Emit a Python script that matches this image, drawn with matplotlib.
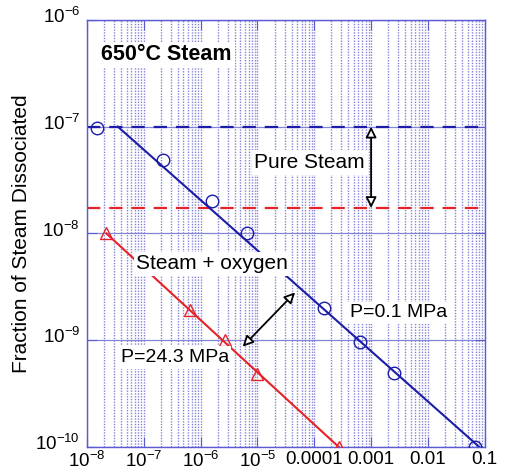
import matplotlib
matplotlib.use("Agg")
import matplotlib.pyplot as plt
from matplotlib.ticker import LogLocator, NullFormatter
from matplotlib.transforms import ScaledTranslation

plt.rcParams['font.family'] = ['Liberation Sans', 'DejaVu Sans']
plt.rcParams['mathtext.fontset'] = 'custom'
plt.rcParams['mathtext.rm'] = 'Liberation Sans'
plt.rcParams['mathtext.it'] = 'Liberation Sans'
plt.rcParams['mathtext.default'] = 'regular'

#DATA
#----
# P=0.1 MPa (pure steam + oxygen), blue circles
blue_x = [1.5e-8, 2.2e-7, 1.6e-6, 6.5e-6, 1.5e-4, 6.3e-4, 2.5e-3, 0.066]
blue_y = [9.8e-8, 4.9e-8, 2.0e-8, 1.0e-8, 2.0e-9, 9.6e-10, 4.9e-10, 1.0e-10]
blue_line_x = [3.5e-8, 0.08]
blue_line_y = [1.0e-7, 1.0e-10]
# P=24.3 MPa, red triangles
red_x = [2.2e-8, 6.5e-7, 2.7e-6, 9.8e-6, 2.7e-4]
red_y = [1.0e-8, 1.9e-9, 1.0e-9, 4.8e-10, 1.0e-10]
red_line_x = [2.2e-8, 2.7e-4]
red_line_y = [1.0e-8, 1.0e-10]
# pure steam levels
pure_blue = 1.0e-7
pure_red = 1.73e-8

xticks = [1e-8, 1e-7, 1e-6, 1e-5, 1e-4, 1e-3, 1e-2, 1e-1]
xticklabels = ['$10^{-8}$', '$10^{-7}$', '$10^{-6}$', '$10^{-5}$', '0.0001', '0.001', '0.01', '0.1']
yticks = [1e-10, 1e-9, 1e-8, 1e-7, 1e-6]
yticklabels = ['$10^{-10}$', '$10^{-9}$', '$10^{-8}$', '$10^{-7}$', '$10^{-6}$']

#STYLE
#-----
blue = '#1c1ca8'
red = '#e62228'
grid_col = '#8484d8'
frame_col = '#5a5ad2'

fig = plt.figure(figsize=(5.05, 4.73), dpi=100)
ax = fig.add_axes([0.172, 0.055, 0.788, 0.903])
ax.set_xscale('log')
ax.set_yscale('log')
ax.set_xlim(1e-8, 0.1)
ax.set_ylim(1e-10, 1e-6)

# grid: vertical dotted at every minor, horizontal only at decades
ax.xaxis.set_minor_locator(LogLocator(base=10, subs=range(2, 10), numticks=20))
ax.xaxis.set_minor_formatter(NullFormatter())
ax.yaxis.set_minor_locator(LogLocator(base=10, subs=range(2, 10), numticks=20))
ax.yaxis.set_minor_formatter(NullFormatter())
ax.grid(True, axis='x', which='both', color=grid_col, linestyle=(0, (1, 1)), linewidth=1.0)
ax.grid(True, axis='y', which='major', color=grid_col, linestyle='-', linewidth=0.9)
ax.set_axisbelow(True)

# pure steam levels
ax.axhline(pure_blue, color=blue, linestyle=(0, (6, 4)), linewidth=1.6, zorder=2)
ax.axhline(pure_red, color=red, linestyle=(0, (6, 4)), linewidth=1.6, zorder=2)

# fits and points
ax.plot(blue_line_x, blue_line_y, color=blue, linewidth=1.5, zorder=3)
ax.plot(red_line_x, red_line_y, color=red, linewidth=1.5, zorder=3)
ax.plot(blue_x, blue_y, 'o', mfc='none', mec=blue, ms=9, mew=1.0, zorder=4)
ax.plot(red_x, red_y, '^', mfc='none', mec=red, ms=8.5, mew=1.0, zorder=4)

# labels with white boxes
box = dict(facecolor='white', edgecolor='none', pad=2)
ax.text(1.8e-8, 4.7e-7, '650°C Steam', fontsize=15.5, fontweight='bold', va='center', ha='left', bbox=box, zorder=5)
ax.text(8.3e-5, 4.6e-8, 'Pure Steam', fontsize=15, va='center', ha='center', bbox=box, zorder=5)
ax.text(1.6e-6, 5.2e-9, 'Steam + oxygen', fontsize=15, va='center', ha='center', bbox=box, zorder=5)
ax.text(3.0e-3, 1.8e-9, 'P=0.1 MPa', fontsize=14, va='center', ha='center', bbox=box, zorder=5)
ax.text(3.5e-7, 6.9e-10, 'P=24.3 MPa', fontsize=14, va='center', ha='center', bbox=box, zorder=5)

arrow = dict(arrowstyle='<|-|>', fc='white', ec='black', lw=1.3, mutation_scale=16, shrinkA=0, shrinkB=0)
ax.annotate('', xy=(1e-3, pure_blue), xytext=(1e-3, pure_red), arrowprops=arrow, zorder=6)
ax.annotate('', xy=(4.6e-5, 2.8e-9), xytext=(5.5e-6, 8.7e-10), arrowprops=arrow, zorder=6)

# axes look
for s in ax.spines.values():
    s.set_color(frame_col)
    s.set_linewidth(1.0)
ax.tick_params(which='major', direction='in', length=7, color=frame_col, top=True, right=True,
               labelsize=13.5)
ax.tick_params(axis='x', which='major', pad=3)
ax.tick_params(axis='y', which='major', pad=5)
ax.tick_params(which='minor', direction='in', length=0, top=True, right=True)
ax.set_xticks(xticks)
ax.set_xticklabels(xticklabels)
ax.set_yticks(yticks)
ax.set_yticklabels(yticklabels)
# lift the y labels a little so the exponents sit like the original
lift = ScaledTranslation(0, 3.5 / 72, fig.dpi_scale_trans)
for lab in ax.get_yticklabels():
    lab.set_transform(lab.get_transform() + lift)
ax.set_ylabel('Fraction of Steam Dissociated', fontsize=15, labelpad=3)

fig.savefig('out.png', dpi=100)
